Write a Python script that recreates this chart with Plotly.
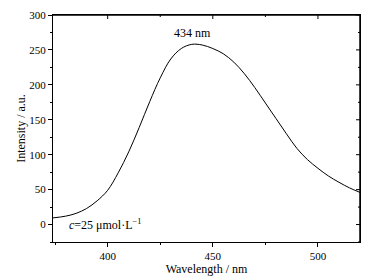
import plotly.graph_objects as go

wavelength = [374, 380, 385, 390, 395, 400, 405, 410, 415, 420, 425, 430, 435, 440,
              445, 450, 455, 460, 465, 470, 475, 480, 485, 490, 495, 500, 505, 510, 515, 520]
intensity = [9.5, 12, 16, 23, 34, 49, 74, 104, 139, 176, 210, 237, 252, 258,
             257, 252, 244.5, 232.5, 216, 196, 174, 152, 130, 109, 93, 80.5, 69.5, 60.5, 52.5, 46]
x_ticks = [400, 450, 500]
x_minor = [425, 475]
y_ticks = [0, 50, 100, 150, 200, 250, 300]
y_minor = [-25, 25, 75, 125, 175, 225, 275]

FONT = "Liberation Serif"

fig = go.Figure()
fig.add_trace(go.Scatter(x=wavelength, y=intensity, mode="lines",
                         line=dict(color="black", width=1, shape="spline", smoothing=1.0),
                         showlegend=False, hoverinfo="skip"))

fig.add_annotation(x=440.5, y=274, text="434 nm", showarrow=False,
                   font=dict(family=FONT, size=12, color="black"))
fig.add_annotation(x=380.5, y=0, text="<i>c</i>=25 μmol·L<sup>−1</sup>", showarrow=False,
                   xanchor="left", yanchor="middle",
                   font=dict(family=FONT, size=12, color="black"))

# frame edges (top and right), in paper coordinates of the plot area
fig.add_shape(type="line", xref="paper", yref="paper", x0=0, x1=1, y0=1, y1=1,
              line=dict(color="black", width=1.5), layer="above")
fig.add_shape(type="line", xref="paper", yref="paper", x0=1, x1=1, y0=0, y1=1,
              line=dict(color="black", width=1.5), layer="above")
# inward ticks on top and right edges, placed through the axes' scales
for v in x_ticks + x_minor:
    ln = 4 if v in x_ticks else 2
    fig.add_shape(type="line", xref="x", yref="paper", ysizemode="pixel", yanchor=1,
                  x0=v, x1=v, y0=0, y1=-ln, line=dict(color="black", width=1))
for v in y_ticks + y_minor:
    ln = 4 if v in y_ticks else 2
    fig.add_shape(type="line", yref="y", xref="paper", xsizemode="pixel", xanchor=1,
                  y0=v, y1=v, x0=0, x1=-ln, line=dict(color="black", width=1))

xr = [374, 520]
yr = [-25, 300]
axis_common = dict(showline=True, linecolor="black", linewidth=1, showgrid=False,
                   zeroline=False, tickcolor="black", ticklen=4, tickwidth=1,
                   automargin=False, ticks="outside", mirror=True,
                   minor=dict(dtick=25, tick0=0, ticks="outside", ticklen=2, tickcolor="black"),
                   tickfont=dict(family=FONT, size=11, color="black"))

fig.update_layout(
    width=379, height=272,
    margin=dict(l=45, r=27, t=7, b=38),
    paper_bgcolor="white", plot_bgcolor="white",
    font=dict(family=FONT, size=12, color="black"),
    xaxis=dict(range=xr, tickvals=x_ticks,
               title=dict(text="Wavelength / nm", font=dict(family=FONT, size=12), standoff=0),
               **axis_common),
    yaxis=dict(range=yr, tickvals=y_ticks,
               title=dict(text="Intensity / a.u.", font=dict(family=FONT, size=12), standoff=1),
               **axis_common),
)

fig.write_html("out.html")
